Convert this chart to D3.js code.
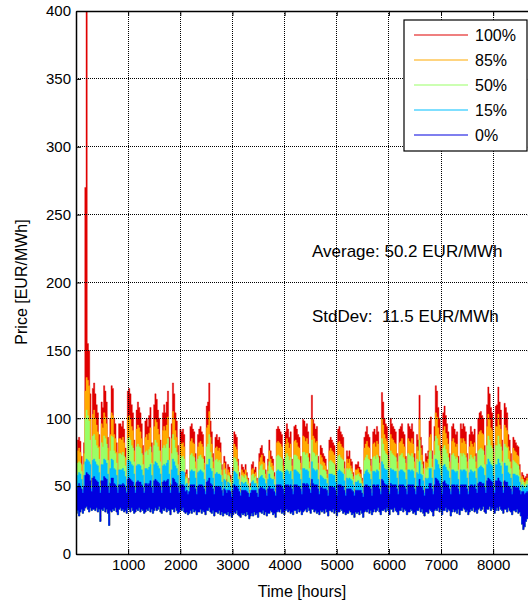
<!DOCTYPE html>
<html>
<head>
<meta charset="utf-8">
<script src="https://cdn.jsdelivr.net/npm/d3@7"></script>
<style>
  html, body { margin: 0; padding: 0; background: #fff; }
  svg { display: block; font-family: "Liberation Sans", Arial, sans-serif; }
  .grid line { stroke: #000; stroke-width: 1; stroke-dasharray: 1,1; shape-rendering: crispEdges; }
  .axis path, .axis line { stroke: #000; }
  .axis text { fill: #000; }
</style>
</head>
<body>
<svg id="chart" width="528" height="606"></svg>
<script>
// Daily maxima (EUR/MWh) of the hourly price quantiles, day 0 = 1 January.
// Rows hold seven days each; the sixth entry of every row is a Sunday.
const p100 = [
  70, 84, 86, 83, 72, 52, 82,
  270, 520, 155, 150, 118, 56, 122,
  126, 118, 110, 104, 88, 54, 112,
  108, 124, 120, 112, 86, 53, 100,
  124, 122, 100, 96, 82, 52, 96,
  96, 94, 98, 92, 78, 50, 120,
  122, 118, 110, 104, 84, 52, 106,
  112, 108, 104, 96, 80, 51, 98,
  100, 94, 102, 108, 82, 52, 110,
  118, 114, 106, 100, 84, 53, 104,
  110, 104, 112, 120, 86, 52, 96,
  126, 118, 104, 98, 80, 51, 92,
  90, 92, 88, 60, 62, 50, 56,
  94, 96, 92, 90, 74, 50, 88,
  92, 94, 90, 88, 72, 50, 109,
  112, 126, 98, 90, 74, 50, 86,
  88, 84, 86, 82, 66, 48, 72,
  68, 55, 66, 64, 58, 47, 64,
  90, 88, 86, 70, 60, 48, 66,
  64, 62, 66, 60, 56, 47, 52,
  66, 68, 62, 64, 56, 47, 74,
  78, 80, 74, 72, 62, 48, 70,
  84, 76, 72, 70, 60, 48, 92,
  94, 92, 90, 88, 70, 50, 90,
  96, 92, 86, 90, 70, 50, 94,
  95, 92, 88, 86, 72, 50, 99,
  98, 94, 96, 90, 74, 52, 117,
  99, 96, 92, 94, 72, 50, 80,
  78, 74, 72, 70, 62, 49, 84,
  86, 84, 82, 80, 66, 49, 92,
  94, 90, 88, 86, 68, 49, 76,
  72, 76, 70, 68, 60, 48, 66,
  66, 68, 64, 62, 56, 47, 86,
  90, 94, 88, 86, 70, 49, 90,
  92, 88, 94, 90, 72, 50, 119,
  112, 100, 96, 94, 76, 50, 100,
  96, 94, 92, 90, 74, 50, 92,
  94, 96, 90, 88, 72, 50, 96,
  94, 92, 96, 90, 74, 50, 88,
  84, 117, 86, 80, 68, 49, 74,
  72, 76, 98, 101, 76, 50, 94,
  124, 120, 108, 100, 80, 50, 104,
  109, 102, 96, 90, 74, 50, 94,
  96, 92, 88, 90, 72, 50, 96,
  92, 96, 94, 90, 74, 50, 88,
  94, 90, 88, 92, 74, 51, 100,
  104, 105, 102, 100, 80, 52, 110,
  123, 118, 108, 104, 82, 52, 109,
  110, 123, 112, 106, 84, 53, 111,
  108, 104, 88, 84, 74, 50, 86,
  84, 82, 80, 79, 66, 50, 60,
  58, 56, 57, 59, 54, 48, 56,
  55
];
const p85 = [
  64, 76, 78, 75, 66, 50, 74,
  120, 130, 128, 124, 100, 53, 103,
  106, 100, 95, 90, 79, 52, 96,
  93, 104, 101, 96, 78, 51, 88,
  104, 102, 88, 85, 75, 50, 85,
  85, 84, 86, 82, 71, 49, 101,
  102, 99, 94, 91, 76, 50, 92,
  95, 93, 90, 85, 73, 49, 86,
  88, 84, 89, 93, 75, 50, 94,
  99, 97, 92, 88, 76, 51, 91,
  94, 91, 95, 101, 78, 50, 85,
  105, 99, 91, 86, 73, 49, 82,
  81, 82, 79, 57, 59, 49, 54,
  83, 85, 82, 81, 68, 49, 79,
  82, 83, 81, 79, 67, 49, 93,
  95, 105, 86, 81, 68, 49, 78,
  79, 76, 78, 75, 62, 47, 67,
  63, 53, 62, 60, 55, 46, 60,
  81, 79, 77, 65, 57, 47, 62,
  60, 59, 62, 57, 54, 46, 50,
  62, 63, 59, 60, 54, 46, 68,
  71, 73, 68, 67, 59, 47, 65,
  76, 70, 67, 65, 57, 47, 82,
  83, 82, 81, 79, 65, 49, 81,
  85, 82, 78, 81, 65, 49, 83,
  84, 82, 79, 78, 67, 49, 87,
  86, 83, 85, 81, 68, 50, 99,
  87, 85, 82, 83, 67, 49, 73,
  71, 68, 67, 65, 59, 48, 76,
  78, 76, 75, 73, 62, 48, 82,
  83, 81, 79, 78, 63, 48, 70,
  67, 70, 65, 63, 57, 47, 62,
  62, 63, 60, 59, 54, 46, 78,
  81, 83, 79, 78, 65, 48, 81,
  82, 79, 83, 81, 67, 49, 100,
  95, 88, 85, 83, 70, 49, 88,
  85, 84, 82, 81, 68, 49, 82,
  83, 85, 81, 79, 67, 49, 85,
  83, 82, 85, 81, 68, 49, 79,
  76, 99, 78, 73, 63, 48, 68,
  67, 70, 86, 88, 70, 49, 83,
  104, 101, 93, 88, 73, 49, 91,
  94, 89, 85, 81, 68, 49, 83,
  85, 82, 79, 81, 67, 49, 85,
  82, 85, 83, 81, 68, 49, 79,
  83, 81, 79, 82, 68, 50, 88,
  90, 91, 89, 88, 73, 50, 94,
  103, 99, 93, 91, 75, 50, 94,
  94, 103, 95, 92, 76, 51, 95,
  93, 91, 79, 76, 68, 49, 78,
  76, 75, 73, 72, 62, 49, 57,
  55, 53, 54, 56, 52, 47, 53,
  52
];
const p50 = [
  59, 67, 68, 67, 61, 49, 66,
  100, 106, 102, 98, 84, 51, 87,
  88, 84, 80, 78, 70, 50, 82,
  79, 87, 85, 81, 69, 49, 76,
  87, 86, 76, 74, 67, 49, 74,
  74, 73, 75, 72, 65, 48, 85,
  86, 84, 80, 78, 68, 49, 79,
  81, 79, 78, 74, 66, 48, 75,
  76, 73, 77, 79, 67, 49, 80,
  84, 82, 79, 76, 68, 49, 78,
  80, 78, 81, 85, 69, 49, 74,
  88, 84, 78, 75, 66, 48, 72,
  71, 72, 70, 55, 56, 48, 52,
  73, 74, 72, 71, 63, 48, 70,
  72, 73, 71, 70, 62, 48, 79,
  81, 88, 75, 71, 63, 48, 69,
  70, 68, 69, 67, 58, 46, 62,
  59, 51, 58, 57, 53, 45, 57,
  71, 70, 68, 61, 55, 46, 58,
  57, 56, 58, 55, 52, 45, 49,
  58, 59, 56, 57, 52, 45, 62,
  65, 66, 62, 62, 56, 46, 61,
  68, 64, 62, 61, 55, 46, 72,
  73, 72, 71, 70, 61, 48, 71,
  74, 72, 69, 71, 61, 48, 73,
  73, 72, 70, 69, 62, 48, 75,
  75, 73, 74, 71, 63, 49, 84,
  75, 74, 72, 73, 62, 48, 66,
  65, 62, 62, 61, 56, 47, 68,
  69, 68, 67, 66, 58, 47, 72,
  73, 71, 70, 69, 59, 47, 63,
  62, 63, 61, 59, 55, 46, 58,
  58, 59, 57, 56, 52, 45, 69,
  71, 73, 70, 69, 61, 47, 71,
  72, 70, 73, 71, 62, 48, 85,
  81, 76, 74, 73, 64, 48, 76,
  74, 73, 72, 71, 63, 48, 72,
  73, 74, 71, 70, 62, 48, 74,
  73, 72, 74, 71, 63, 48, 70,
  68, 84, 69, 66, 59, 47, 63,
  62, 64, 75, 76, 64, 48, 73,
  87, 85, 80, 76, 66, 48, 78,
  80, 77, 74, 71, 63, 48, 73,
  74, 72, 70, 71, 62, 48, 74,
  72, 74, 73, 71, 63, 48, 70,
  73, 71, 70, 72, 63, 49, 76,
  77, 78, 77, 76, 66, 49, 80,
  87, 84, 80, 78, 67, 49, 80,
  80, 87, 81, 79, 68, 49, 81,
  79, 78, 70, 68, 63, 48, 69,
  68, 67, 66, 65, 58, 48, 55,
  53, 51, 52, 54, 50, 46, 51,
  50
];
const p15 = [
  54, 58, 60, 59, 55, 47, 58,
  68, 70, 69, 68, 66, 48, 69,
  70, 68, 66, 65, 60, 47, 66,
  66, 70, 69, 67, 59, 47, 63,
  70, 69, 63, 62, 58, 47, 62,
  62, 62, 63, 61, 57, 46, 69,
  69, 68, 66, 65, 59, 47, 65,
  66, 66, 65, 62, 58, 46, 63,
  63, 62, 64, 66, 58, 47, 66,
  68, 67, 65, 63, 59, 47, 65,
  66, 65, 67, 69, 59, 47, 62,
  70, 68, 65, 63, 58, 46, 61,
  61, 61, 60, 51, 52, 46, 49,
  61, 62, 61, 61, 56, 46, 60,
  61, 62, 61, 60, 55, 46, 66,
  66, 70, 63, 61, 56, 46, 59,
  60, 59, 59, 58, 53, 45, 55,
  54, 48, 53, 52, 50, 44, 52,
  61, 60, 59, 55, 51, 45, 53,
  52, 52, 53, 51, 49, 44, 47,
  53, 54, 52, 52, 49, 44, 56,
  57, 58, 56, 55, 52, 45, 55,
  59, 56, 55, 55, 51, 45, 61,
  62, 61, 61, 60, 55, 46, 61,
  62, 61, 59, 61, 55, 46, 62,
  62, 61, 60, 59, 55, 46, 63,
  63, 62, 62, 61, 56, 47, 68,
  63, 62, 61, 62, 55, 46, 58,
  57, 56, 55, 55, 52, 45, 59,
  59, 59, 58, 58, 53, 45, 61,
  62, 61, 60, 59, 54, 45, 56,
  55, 56, 55, 54, 51, 45, 53,
  53, 54, 52, 52, 49, 44, 59,
  61, 62, 60, 59, 55, 45, 61,
  61, 60, 62, 61, 55, 46, 68,
  66, 63, 62, 62, 56, 46, 63,
  62, 62, 61, 61, 56, 46, 61,
  62, 62, 61, 60, 55, 46, 62,
  62, 61, 62, 61, 56, 46, 60,
  59, 68, 59, 58, 54, 45, 56,
  55, 56, 63, 63, 56, 46, 62,
  70, 69, 66, 63, 58, 46, 65,
  66, 64, 62, 61, 56, 46, 62,
  62, 61, 60, 61, 55, 46, 62,
  61, 62, 62, 61, 56, 46, 60,
  62, 61, 60, 61, 56, 47, 63,
  64, 65, 64, 63, 58, 47, 66,
  70, 68, 66, 65, 58, 47, 66,
  66, 70, 67, 65, 59, 47, 67,
  65, 65, 60, 59, 56, 46, 59,
  59, 58, 58, 57, 53, 46, 51,
  50, 48, 49, 51, 48, 45, 48,
  48
];
const p0 = [
  47, 50, 52, 50, 48, 45, 50,
  58, 60, 59, 58, 54, 46, 56,
  57, 55, 54, 53, 50, 45, 54,
  54, 57, 56, 55, 50, 45, 52,
  56, 56, 52, 51, 49, 45, 51,
  51, 51, 52, 51, 49, 45, 55,
  56, 55, 54, 53, 50, 45, 53,
  54, 53, 53, 51, 49, 45, 52,
  52, 51, 52, 54, 49, 45, 54,
  55, 54, 53, 52, 50, 45, 53,
  54, 53, 54, 55, 50, 45, 51,
  56, 55, 53, 52, 49, 45, 51,
  51, 51, 50, 46, 47, 44, 46,
  51, 51, 51, 51, 48, 44, 50,
  51, 51, 51, 50, 48, 44, 53,
  54, 56, 52, 51, 48, 44, 50,
  50, 50, 50, 49, 47, 43, 48,
  47, 45, 47, 47, 46, 42, 47,
  51, 50, 50, 48, 46, 43, 47,
  47, 47, 47, 46, 45, 42, 45,
  47, 47, 47, 47, 45, 42, 48,
  49, 49, 48, 48, 47, 43, 48,
  50, 48, 48, 48, 46, 43, 51,
  51, 51, 51, 50, 48, 44, 51,
  51, 51, 50, 51, 48, 44, 51,
  51, 51, 50, 50, 48, 44, 52,
  52, 51, 52, 51, 48, 45, 55,
  52, 51, 51, 51, 48, 44, 49,
  49, 48, 48, 48, 47, 43, 50,
  50, 50, 49, 49, 47, 43, 51,
  51, 51, 50, 50, 47, 43, 48,
  48, 48, 48, 47, 46, 43, 47,
  47, 47, 47, 47, 45, 42, 50,
  51, 51, 50, 50, 48, 43, 51,
  51, 50, 51, 51, 48, 44, 55,
  54, 52, 51, 51, 48, 44, 52,
  51, 51, 51, 51, 48, 44, 51,
  51, 51, 51, 50, 48, 44, 51,
  51, 51, 51, 51, 48, 44, 50,
  50, 55, 50, 49, 47, 43, 48,
  48, 48, 52, 52, 48, 44, 51,
  56, 55, 54, 52, 49, 44, 53,
  54, 52, 51, 51, 48, 44, 51,
  51, 51, 50, 51, 48, 44, 51,
  51, 51, 51, 51, 48, 44, 50,
  51, 51, 50, 51, 48, 45, 52,
  53, 53, 52, 52, 49, 45, 54,
  56, 55, 54, 53, 49, 45, 54,
  54, 56, 54, 53, 50, 45, 54,
  53, 53, 50, 50, 48, 44, 50,
  50, 49, 49, 49, 47, 44, 46,
  46, 44, 45, 46, 45, 43, 45,
  45
];
// Daily minimum of the 0% quantile (lower edge of the band)
const p0Low = [
  30, 32, 28, 31, 33, 30, 32,
  34, 35, 33, 31, 34, 32, 33,
  33, 32, 34, 31, 33, 24, 33,
  32, 34, 31, 33, 30, 21, 32,
  31, 33, 32, 34, 31, 29, 33,
  34, 32, 33, 31, 32, 30, 34,
  33, 31, 34, 32, 30, 31, 33,
  32, 34, 31, 33, 32, 30, 31,
  33, 32, 34, 31, 33, 30, 32,
  34, 32, 33, 35, 31, 30, 33,
  32, 34, 31, 33, 32, 29, 33,
  33, 31, 34, 32, 30, 31, 33,
  32, 34, 31, 30, 31, 29, 30,
  32, 30, 33, 31, 32, 29, 31,
  31, 33, 30, 32, 31, 29, 32,
  32, 34, 31, 30, 32, 28, 31,
  31, 30, 32, 29, 31, 28, 30,
  30, 29, 31, 28, 30, 27, 29,
  31, 30, 32, 29, 28, 27, 30,
  29, 30, 28, 31, 29, 26, 28,
  30, 28, 31, 29, 30, 27, 31,
  31, 30, 32, 29, 31, 28, 30,
  30, 32, 31, 29, 30, 27, 31,
  32, 31, 33, 30, 31, 29, 32,
  33, 31, 32, 30, 31, 29, 32,
  32, 30, 33, 31, 32, 29, 31,
  32, 33, 31, 34, 32, 30, 33,
  33, 31, 32, 30, 31, 29, 32,
  31, 32, 30, 33, 31, 28, 32,
  32, 31, 33, 30, 32, 28, 31,
  31, 33, 32, 30, 31, 29, 30,
  30, 32, 31, 29, 30, 27, 31,
  30, 31, 29, 32, 30, 27, 31,
  32, 31, 33, 30, 32, 29, 31,
  33, 31, 32, 34, 31, 29, 32,
  32, 33, 31, 34, 32, 29, 33,
  33, 31, 34, 32, 31, 29, 32,
  32, 34, 31, 33, 32, 29, 31,
  31, 33, 32, 30, 31, 29, 32,
  32, 34, 31, 33, 30, 28, 31,
  31, 30, 33, 32, 31, 28, 32,
  33, 32, 34, 31, 33, 29, 32,
  32, 34, 31, 33, 32, 28, 31,
  33, 31, 32, 30, 33, 29, 32,
  32, 34, 33, 31, 32, 29, 31,
  33, 32, 34, 31, 32, 30, 33,
  34, 32, 33, 35, 31, 30, 33,
  33, 35, 32, 34, 33, 30, 32,
  34, 32, 35, 33, 32, 30, 33,
  33, 31, 34, 32, 31, 29, 32,
  32, 31, 33, 30, 31, 28, 22,
  18, 20, 24, 26, 28, 27, 28,
  28
];

const seriesNames = ["100%", "85%", "50%", "15%", "0%"];
const seriesColors = ["#e00000", "#ffaa00", "#99ff66", "#00bfff", "#0000e0"];
const seriesValues = [p100, p85, p50, p15, p0];

const xTicks = [1000, 2000, 3000, 4000, 5000, 6000, 7000, 8000];
const yTicks = [0, 50, 100, 150, 200, 250, 300, 350, 400];
const notes = ["Average: 50.2 EUR/MWh", "StdDev:  11.5 EUR/MWh"];

const hoursInYear = 8760;
const hoursPerDay = 24;

const svg = d3.select("#chart");
const margin = { left: 76, top: 11 };
const plotW = 456.8, plotH = 543;

const x = d3.scaleLinear().domain([0, hoursInYear]).range([margin.left, margin.left + plotW]);
const y = d3.scaleLinear().domain([0, 400]).range([margin.top + plotH, margin.top]);

svg.append("rect").attr("width", 528).attr("height", 606).attr("fill", "#fff");

svg.append("defs").append("clipPath").attr("id", "plotClip")
  .append("rect")
  .attr("x", x(0)).attr("y", y(400))
  .attr("width", plotW).attr("height", plotH);

// Quantile bands: each series filled from its daily peak down to the daily minimum
const plot = svg.append("g").attr("clip-path", "url(#plotClip)");
const area = d3.area()
  .x(d => x(d.h))
  .y0(d => y(d.lo))
  .y1(d => y(d.hi))
  .curve(d3.curveStepAfter);

seriesValues.forEach((vals, i) => {
  const pts = vals.map((v, d) => ({ h: d * hoursPerDay, hi: v, lo: p0Low[d] }));
  pts.push({ h: hoursInYear, hi: vals[vals.length - 1], lo: p0Low[p0Low.length - 1] });
  plot.append("path")
    .datum(pts)
    .attr("d", area)
    .attr("fill", seriesColors[i])
    .attr("stroke", seriesColors[i])
    .attr("stroke-width", 0.4);
});

// Dotted grid drawn above the data
const grid = svg.append("g").attr("class", "grid");
grid.selectAll("line.v").data(xTicks).join("line")
  .attr("x1", d => x(d)).attr("x2", d => x(d))
  .attr("y1", y(0)).attr("y2", y(400));
grid.selectAll("line.h").data(yTicks.filter(v => v > 0 && v < 400)).join("line")
  .attr("x1", x(0)).attr("x2", x(hoursInYear))
  .attr("y1", d => y(d)).attr("y2", d => y(d));

// Axes with inward ticks on all four sides
const fontSize = 15;
const xAxis = svg.append("g").attr("class", "axis")
  .attr("transform", `translate(0,${y(0)})`)
  .call(d3.axisBottom(x).tickValues(xTicks).tickFormat(d3.format("d"))
    .tickSizeInner(-5).tickSizeOuter(0).tickPadding(5));
xAxis.selectAll("text").attr("font-size", fontSize);
xAxis.select(".domain").attr("stroke-width", 1.5);

const yAxis = svg.append("g").attr("class", "axis")
  .attr("transform", `translate(${x(0)},0)`)
  .call(d3.axisLeft(y).tickValues(yTicks).tickFormat(d3.format("d"))
    .tickSizeInner(-5).tickSizeOuter(0).tickPadding(5));
yAxis.selectAll("text").attr("font-size", fontSize);
yAxis.select(".domain").attr("stroke-width", 1.5);

const topAxis = svg.append("g").attr("class", "axis")
  .attr("transform", `translate(0,${y(400)})`)
  .call(d3.axisTop(x).tickValues(xTicks).tickSizeInner(-5).tickSizeOuter(0).tickFormat(""));
topAxis.select(".domain").attr("stroke-width", 1.5);

const rightAxis = svg.append("g").attr("class", "axis")
  .attr("transform", `translate(${x(hoursInYear)},0)`)
  .call(d3.axisRight(y).tickValues(yTicks).tickSizeInner(-5).tickSizeOuter(0).tickFormat(""));
rightAxis.select(".domain").attr("stroke-width", 1.5);

// Axis titles
svg.append("text")
  .attr("x", 302).attr("y", 597)
  .attr("text-anchor", "middle")
  .attr("font-size", 16)
  .text("Time [hours]");
svg.append("text")
  .attr("transform", "translate(27,282) rotate(-90)")
  .attr("text-anchor", "middle")
  .attr("font-size", 16)
  .text("Price [EUR/MWh]");

// Summary statistics
svg.selectAll("text.note").data(notes).join("text")
  .attr("class", "note")
  .attr("x", 312)
  .attr("y", (d, i) => 256.5 + i * 65)
  .attr("font-size", 17)
  .attr("xml:space", "preserve")
  .style("white-space", "pre")
  .text(d => d);

// Legend
const legend = svg.append("g");
legend.append("rect")
  .attr("x", 404).attr("y", 20).attr("width", 123).attr("height", 131)
  .attr("fill", "#fff").attr("stroke", "#000").attr("stroke-width", 1.2);
seriesNames.forEach((name, i) => {
  const ly = 35 + i * 25;
  legend.append("line")
    .attr("x1", 414).attr("x2", 468).attr("y1", ly).attr("y2", ly)
    .attr("stroke", seriesColors[i]).attr("stroke-width", 1.2);
  legend.append("text")
    .attr("x", 475).attr("y", ly + 6)
    .attr("font-size", 16)
    .text(name);
});
</script>
</body>
</html>
